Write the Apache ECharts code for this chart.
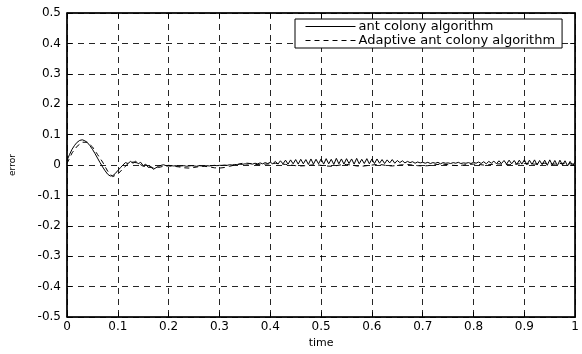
<!DOCTYPE html>
<html>
<head>
<meta charset="utf-8">
<script src="https://cdn.jsdelivr.net/npm/echarts@6/dist/echarts.min.js"></script>
<style>html,body{margin:0;padding:0;background:#fff}#c{width:582px;height:354px}</style>
</head>
<body>
<div id="c"></div>
<script>
const seriesNames = ['ant colony algorithm', 'Adaptive ant colony algorithm'];
const xTicks = [0, 0.1, 0.2, 0.3, 0.4, 0.5, 0.6, 0.7, 0.8, 0.9, 1];
const yTicks = [-0.5, -0.4, -0.3, -0.2, -0.1, 0, 0.1, 0.2, 0.3, 0.4, 0.5];

// solid curve: sampled every 0.005 from t = 0 to 1
const antStep = 0.005;
const antValues = [
  0.015, 0.035, 0.052, 0.065, 0.075, 0.081, 0.083, 0.080, 0.074, 0.064,
  0.052, 0.038, 0.023, 0.008, -0.006, -0.019, -0.030, -0.036, -0.035, -0.028,
  -0.018, -0.009, 0.000, 0.008, 0.005, 0.012, 0.006, 0.013, 0.004, 0.009,
  -0.002, 0.003, -0.008, -0.004, -0.014, -0.009, -0.004, -0.001, 0.001, -0.002,
  -0.001,
  -0.002, -0.003, -0.002, -0.004, -0.003, -0.002, -0.004, -0.003, -0.002, -0.003,
  -0.004, -0.002, -0.003, -0.003, -0.002, -0.003, -0.002, -0.001, -0.002, -0.001,
  -0.001, 0.000, -0.001, 0.001, 0.000, 0.002, 0.001, 0.003, 0.002, 0.004,
  0.003, 0.005, 0.003, 0.006, 0.004, 0.007, 0.004, 0.008, 0.005, 0.009,
  0.004, 0.012, 0.003, 0.014, 0.004, 0.016, 0.003, 0.017, 0.004, 0.018,
  0.003, 0.019, 0.004, 0.018, 0.002, 0.020, 0.003, 0.019, 0.004, 0.020,
  0.003, 0.021, 0.004, 0.019, 0.002, 0.022, 0.004, 0.020, 0.003, 0.021,
  0.005, 0.020, 0.003, 0.022, 0.004, 0.019, 0.005, 0.021, 0.004, 0.020,
  0.005, 0.020, 0.006, 0.018, 0.005, 0.017, 0.007, 0.018, 0.006, 0.015,
  0.008, 0.014, 0.007, 0.012, 0.008, 0.011, 0.006, 0.010, 0.007, 0.009,
  0.006, 0.009, 0.005, 0.008, 0.006, 0.009, 0.004, 0.008, 0.006, 0.007,
  0.005, 0.008, 0.006, 0.009, 0.005, 0.007, 0.006, 0.008, 0.005, 0.009,
  0.006, 0.010, 0.005, 0.011, 0.004, 0.012, 0.006, 0.013, 0.004, 0.014,
  0.005, 0.015, 0.003, 0.016, 0.004, 0.015, 0.002, 0.016, 0.003, 0.017,
  0.001, 0.016, 0.002, 0.017, 0.000, 0.015, 0.001, 0.016, -0.001, 0.017,
  0.000, 0.015, -0.002, 0.016, 0.000, 0.014, -0.003, 0.012, -0.002, 0.010
];

// dashed curve: sampled every 0.01 from t = 0 to 1
const adaptiveStep = 0.01;
const adaptiveValues = [
  0.005, 0.040, 0.062, 0.075, 0.075, 0.060, 0.035, 0.010, -0.020, -0.038,
  -0.030, -0.012, 0.004, 0.010, 0.006, -0.004, -0.006, -0.010, -0.008, -0.004,
  -0.003, -0.004, -0.006, -0.009, -0.010, -0.008, -0.005, -0.004, -0.006, -0.009,
  -0.010, -0.008, -0.004, 0.000, 0.004, 0.007, 0.005, 0.002, 0.001, 0.003,
  0.004,
  0.006, 0.004, 0.002, 0.000, -0.002, -0.003, -0.002, 0.000, 0.001, -0.001,
  -0.003, -0.004, -0.002, 0.001, 0.002, 0.000, -0.003, -0.004, -0.002, 0.000,
  0.002, 0.001, -0.002, -0.003, -0.001, 0.001, 0.002, 0.000, -0.002, -0.003,
  -0.002, 0.000, 0.002, 0.003, 0.001, -0.001, -0.002, 0.000, 0.002, 0.003,
  0.002, 0.000, 0.001, 0.003, 0.004, 0.002, 0.001, 0.003, 0.004, 0.005,
  0.004, 0.003, 0.005, 0.006, 0.004, 0.003, 0.005, 0.006, 0.004, 0.003
];

const toPairs = (vals, step) => vals.map((v, i) => [+(i * step).toFixed(4), v]);

const FONT = 'DejaVu Sans';
const chart = echarts.init(document.getElementById('c'), null, {renderer: 'canvas'});

const gridLine = {show: true, lineStyle: {color: '#000', width: 1, type: [6, 5], opacity: 0.85}};
const fmt = v => (Math.abs(v) < 1e-9 ? '0' : String(+v.toFixed(1)));
const axisLineStyle = {show: true, onZero: false, lineStyle: {color: '#000', width: 1.5}};

chart.setOption({
  animation: false,
  backgroundColor: '#fff',
  grid: {left: 65, right: 6, top: 13, bottom: 33, show: true, borderColor: '#000', borderWidth: 1},
  legend: {
    data: seriesNames,
    orient: 'vertical',
    left: 295,
    top: 19,
    padding: [1, 7, 1, 10],
    itemGap: 1,
    itemWidth: 50,
    itemHeight: 12,
    backgroundColor: '#fff',
    borderColor: '#000',
    borderWidth: 1,
    borderRadius: 0,
    itemStyle: {opacity: 0},
    lineStyle: {width: 1},
    textStyle: {fontFamily: FONT, fontSize: 13, color: '#000', padding: [0, 0, 0, -2]}
  },
  xAxis: [{
    type: 'value', min: xTicks[0], max: xTicks[xTicks.length - 1], interval: 0.1,
    name: 'time', nameLocation: 'middle', nameGap: 17,
    nameTextStyle: {fontFamily: FONT, fontSize: 11, color: '#000'},
    axisLine: axisLineStyle,
    axisTick: {show: true, inside: true, length: 5, lineStyle: {color: '#000'}},
    axisLabel: {fontFamily: FONT, fontSize: 12, color: '#000', margin: 4, formatter: fmt},
    splitLine: gridLine
  }, {
    type: 'value', position: 'top', min: 0, max: 1, interval: 0.1,
    axisLine: axisLineStyle,
    axisTick: {show: true, inside: true, length: 5, lineStyle: {color: '#000'}},
    axisLabel: {show: false}, splitLine: {show: false}
  }],
  yAxis: [{
    type: 'value', min: yTicks[0], max: yTicks[yTicks.length - 1], interval: 0.1,
    name: 'error', nameLocation: 'middle', nameGap: 50, nameRotate: 90,
    nameTextStyle: {fontFamily: FONT, fontSize: 9, color: '#000'},
    axisLine: axisLineStyle,
    axisTick: {show: true, inside: true, length: 5, lineStyle: {color: '#000'}},
    axisLabel: {fontFamily: FONT, fontSize: 12, color: '#000', margin: 6, formatter: fmt},
    splitLine: gridLine
  }, {
    type: 'value', position: 'right', min: -0.5, max: 0.5, interval: 0.1,
    axisLine: axisLineStyle,
    axisTick: {show: true, inside: true, length: 5, lineStyle: {color: '#000'}},
    axisLabel: {show: false}, splitLine: {show: false}
  }],
  series: [{
    name: seriesNames[0], type: 'line', showSymbol: false, symbol: 'none',
    data: toPairs(antValues, antStep),
    lineStyle: {color: '#000', width: 1, type: 'solid'},
    itemStyle: {color: '#000'}
  }, {
    name: seriesNames[1], type: 'line', showSymbol: false, symbol: 'none',
    data: toPairs(adaptiveValues, adaptiveStep),
    lineStyle: {color: '#000', width: 1, type: [5, 4]},
    itemStyle: {color: '#000'}
  }]
});
</script>
</body>
</html>
